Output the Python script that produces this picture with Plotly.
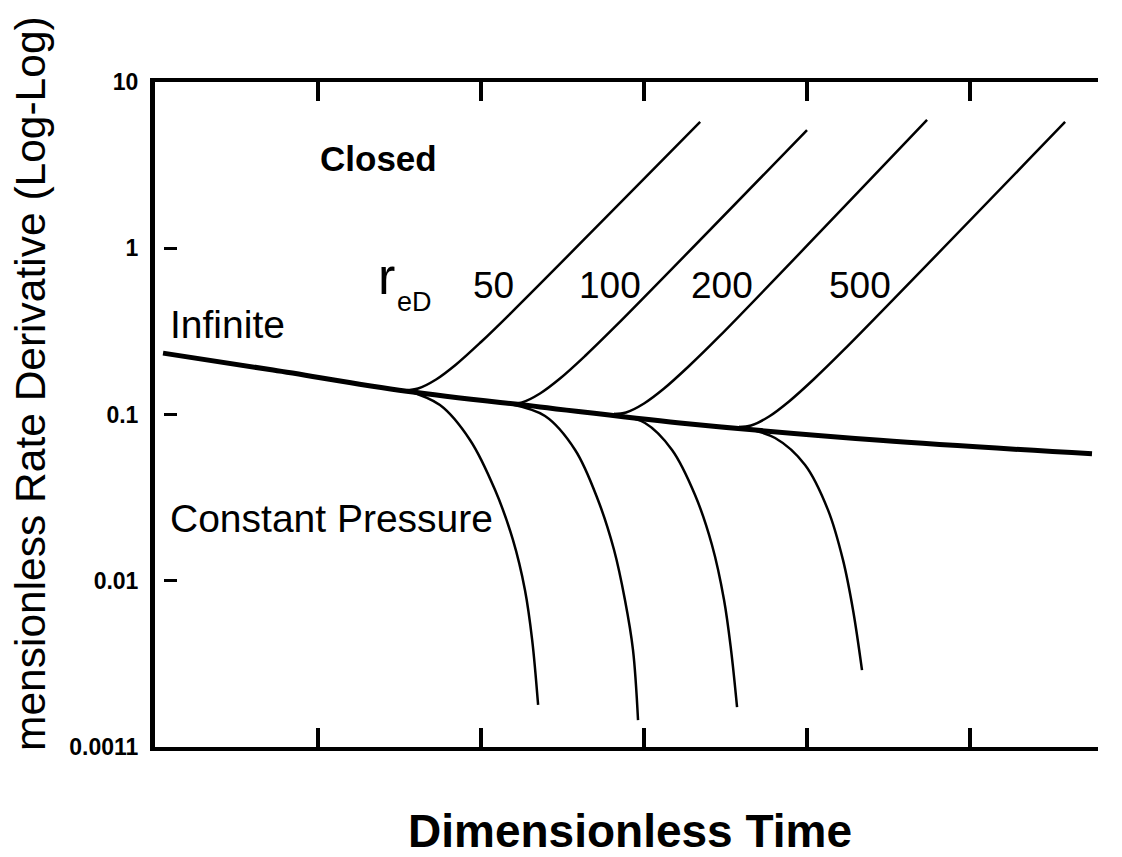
import plotly.graph_objects as go

# ---- data (dimensionless time, dimensionless rate derivative) ----
t_inf = [1.12, 5.3, 35, 230, 1660, 28000, 560000]
q_inf = [0.234, 0.185, 0.138, 0.111, 0.089, 0.070, 0.058]

# closed outer boundary (rising branches)
t_c50 = [34.7, 41.1, 53.0, 70.3, 100, 153, 2210]
q_c50 = [0.140, 0.1433, 0.1624, 0.1999, 0.273, 0.409, 5.75]
t_c100 = [150.6, 178.4, 230.1, 305.2, 434.5, 664, 10000]
q_c100 = [0.1157, 0.1181, 0.1338, 0.1646, 0.2248, 0.3372, 5.14]
t_c200 = [654.6, 775.6, 1000, 1327, 1889, 2884, 54500]
q_c200 = [0.1007, 0.1028, 0.1165, 0.1433, 0.1957, 0.2936, 5.91]
t_c500 = [3828, 4533, 5847, 7755, 11040, 16870, 383000]
q_c500 = [0.0841, 0.0859, 0.0973, 0.1198, 0.1635, 0.2452, 5.75]

# constant pressure outer boundary (falling branches)
t_p50 = [34.7, 56, 85.6, 122, 157, 186, 206, 224]
q_p50 = [0.140, 0.114, 0.0703, 0.0351, 0.0176, 0.0088, 0.0044, 0.00179]
t_p100 = [150.6, 247, 378, 522, 655, 764, 856, 919]
q_p100 = [0.1157, 0.0979, 0.0612, 0.0306, 0.0153, 0.00766, 0.00383, 0.00145]
t_p200 = [654.6, 1014, 1486, 2056, 2612, 3097, 3420, 3722]
q_p200 = [0.1007, 0.0889, 0.0612, 0.0328, 0.0164, 0.00766, 0.00383, 0.00174]
t_p500 = [3828, 6370, 9730, 13460, 16630, 19150, 21740]
q_p500 = [0.0841, 0.0722, 0.0497, 0.0266, 0.0133, 0.00667, 0.0029]

reD_labels = ["50", "100", "200", "500"]
y_tickvals = [10, 1, 0.1, 0.01, 0.001]
y_ticktext = ["10", "1", "0.1", "0.01", "0.0011"]
y_inner_ticks = [1, 0.1, 0.01]
x_tickvals = [10, 100, 1000, 10000, 100000]

FONT = "Liberation Sans, Arial, Helvetica, sans-serif"

fig = go.Figure()

def add_line(x, y, w):
    fig.add_trace(go.Scatter(x=x, y=y, mode="lines",
                             line=dict(color="black", width=w, shape="spline", smoothing=1.0),
                             hoverinfo="skip", showlegend=False))

add_line(t_inf, q_inf, 5)
for tx, qy in [(t_c50, q_c50), (t_c100, q_c100), (t_c200, q_c200), (t_c500, q_c500),
               (t_p50, q_p50), (t_p100, q_p100), (t_p200, q_p200), (t_p500, q_p500)]:
    add_line(tx, qy, 2.5)

# invisible helper trace so that the overlay y axis (inner tick marks) is drawn
fig.add_trace(go.Scatter(x=[t_inf[0]], y=[q_inf[0]], xaxis="x", yaxis="y2",
                         mode="markers", marker=dict(opacity=0), hoverinfo="skip", showlegend=False))

xr = [0, 5.785]
yr = [-3, 1]

fig.update_layout(
    width=1122, height=857,
    margin=dict(l=147, r=32, t=74, b=118),
    paper_bgcolor="white", plot_bgcolor="white",
    font=dict(family=FONT, color="black"),
    showlegend=False,
    xaxis=dict(type="log", range=xr, showline=True, linewidth=4, linecolor="black",
               mirror="ticks",
               ticks="inside", ticklen=19, tickwidth=3.5, tickcolor="black",
               tickvals=x_tickvals, showticklabels=False, showgrid=False, zeroline=False),
    yaxis=dict(type="log", range=yr, showline=True, linewidth=5, linecolor="black",
               ticks="", tickvals=y_tickvals, ticktext=y_ticktext,
               tickfont=dict(family=FONT, size=23, color="black", weight="bold"),
               ticklabelstandoff=7, showgrid=False, zeroline=False),
    yaxis2=dict(type="log", range=yr, overlaying="y", anchor="free", position=0.0085, side="left",
                showline=False, ticks="inside", ticklen=13, tickwidth=2.5, tickcolor="black",
                tickvals=y_inner_ticks, showticklabels=False, showgrid=False, zeroline=False),
)

def ann(text, x, y, size, xanchor="center", bold=False, angle=0):
    fig.add_annotation(text=text, x=x, y=y, xref="paper", yref="paper",
                       xanchor=xanchor, yanchor="middle", showarrow=False, textangle=angle,
                       font=dict(family=FONT, size=size, color="black",
                                 weight="bold" if bold else "normal"))

ann("Closed", 0.1729, 0.8857, 35, xanchor="left", bold=True)
ann("Infinite", 0.0138, 0.6346, 39, xanchor="left")
ann("Constant Pressure", 0.0138, 0.3429, 39, xanchor="left")
ann("r", 0.246, 0.708, 52)
ann("eD", 0.2752, 0.669, 27)
for lab, xp in zip(reD_labels, [0.359, 0.4825, 0.6018, 0.7471]):
    ann(lab, xp, 0.6945, 37)

ann("Dimensionless Time", 0.5032, -0.126, 46, bold=True)
ann("mensionless Rate Derivative (Log-Log)", -0.1315, 0.5474, 42.5, angle=-90)

fig.write_html("out.html")
